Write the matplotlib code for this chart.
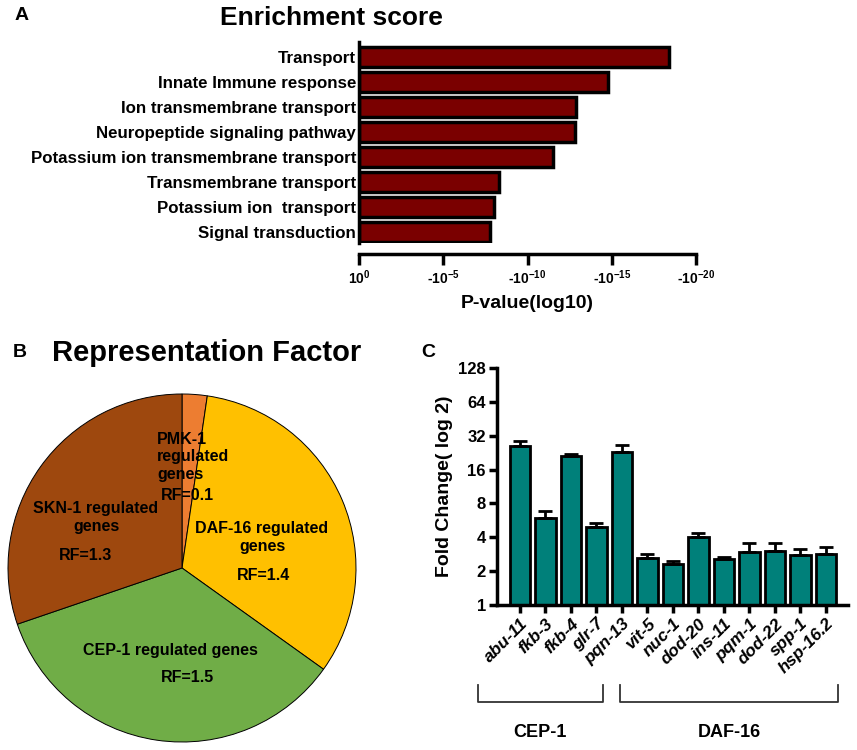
import matplotlib
matplotlib.use('Agg')
import matplotlib.pyplot as plt
import numpy as np

plt.rcParams['font.family'] = ['Liberation Sans', 'DejaVu Sans']
plt.rcParams['font.weight'] = 'bold'
plt.rcParams['axes.labelweight'] = 'bold'
plt.rcParams['mathtext.fontset'] = 'custom'
plt.rcParams['mathtext.bf'] = 'Liberation Sans:bold'
plt.rcParams['mathtext.rm'] = 'Liberation Sans:bold'
plt.rcParams['mathtext.default'] = 'bf'
plt.rcParams['axes.unicode_minus'] = False

# A: enrichment
go_terms = ['Transport', 'Innate Immune response', 'Ion transmembrane transport',
            'Neuropeptide signaling pathway', 'Potassium ion transmembrane transport',
            'Transmembrane transport', 'Potassium ion  transport', 'Signal transduction']
neg_log_p = [18.4, 14.8, 12.9, 12.8, 11.5, 8.3, 8.0, 7.8]
p_ticks = [0, 5, 10, 15, 20]
p_ticklabels = ['10$^{0}$', '-10$^{-5}$', '-10$^{-10}$', '-10$^{-15}$', '-10$^{-20}$']

# B: representation factor
pie_labels = ['PMK-1', 'DAF-16', 'CEP-1', 'SKN-1']
rf_values = [0.1, 1.4, 1.5, 1.3]
pie_colors = ['#ED7D31', '#FFC000', '#70AD47', '#9E480E']

# C: fold change
genes = ['abu-11', 'fkb-3', 'fkb-4', 'glr-7', 'pqn-13', 'vit-5', 'nuc-1', 'dod-20',
         'ins-11', 'pqm-1', 'dod-22', 'spp-1', 'hsp-16.2']
fold = [25.8, 5.9, 21.1, 4.96, 23.0, 2.6, 2.3, 4.0, 2.58, 2.94, 3.03, 2.78, 2.84]
fold_err = [3.0, 0.9, 0.7, 0.42, 3.4, 0.22, 0.17, 0.33, 0.1, 0.59, 0.5, 0.36, 0.45]
groups = ['CEP-1', 'DAF-16']
group_span = [(-1.65, 3.25), (3.92, 12.47)]

W, H = 857, 750
fig = plt.figure(figsize=(W / 100, H / 100), dpi=100)


def px_axes(x0, y0, x1, y1):
    return fig.add_axes([x0 / W, 1 - y1 / H, (x1 - x0) / W, (y1 - y0) / H])


# ---- panel A
axA = px_axes(359, 42, 696, 243)
ypos = np.arange(len(go_terms))
axA.barh(ypos, neg_log_p, height=0.78, color='#7A0000', edgecolor='black', linewidth=2.5)
axA.set_ylim(7.44, -0.6)
axA.set_xlim(0, 20)
axA.set_yticks(ypos)
axA.set_yticklabels(go_terms, fontsize=12.2)
axA.tick_params(axis='y', length=0, pad=2)
axA.set_xticks(p_ticks)
axA.set_xticklabels(p_ticklabels, fontsize=12)
axA.tick_params(axis='x', length=8, width=2.5, direction='out', pad=2)
for s in ['top', 'right']:
    axA.spines[s].set_visible(False)
axA.spines['left'].set_linewidth(2.5)
axA.spines['bottom'].set_linewidth(2.5)
axA.spines['bottom'].set_position(('outward', 8))
axA.set_xlabel('P-value(log10)', fontsize=14, labelpad=6)
fig.text(331 / W, 1 - 18 / H, 'Enrichment score', fontsize=19, ha='center', va='center')
fig.text(22 / W, 1 - 15 / H, 'A', fontsize=14, ha='center', va='center')

# ---- panel B
r = 174
cx, cy = 182, 568
axB = px_axes(cx - r, cy - r, cx + r, cy + r)
axB.pie(rf_values, colors=pie_colors, startangle=90, counterclock=False,
        wedgeprops=dict(edgecolor='black', linewidth=0.7))
axB.set_xlim(-1, 1)
axB.set_ylim(-1, 1)


def pd_(px, py):
    return (px - cx) / r, (cy - py) / r


tx = 11.5
axB.text(*pd_(157, 457), 'PMK-1\nregulated\ngenes', fontsize=tx, ha='left', va='center',
         linespacing=1.2)
axB.text(*pd_(187, 496), 'RF=0.1', fontsize=tx, ha='center', va='center')
axB.text(*pd_(96, 517), 'SKN-1 regulated\ngenes', fontsize=tx, ha='center', va='center',
         linespacing=1.25)
axB.text(*pd_(85, 555), 'RF=1.3', fontsize=tx, ha='center', va='center')
axB.text(*pd_(262, 538), 'DAF-16 regulated\ngenes', fontsize=tx, ha='center', va='center',
         linespacing=1.25)
axB.text(*pd_(263, 575), 'RF=1.4', fontsize=tx, ha='center', va='center')
axB.text(*pd_(170, 650), 'CEP-1 regulated genes', fontsize=tx, ha='center', va='center')
axB.text(*pd_(187, 678), 'RF=1.5', fontsize=tx, ha='center', va='center')
fig.text(20 / W, 1 - 352 / H, 'B', fontsize=14, ha='center', va='center')
fig.text(207 / W, 1 - 353 / H, 'Representation Factor', fontsize=21, ha='center', va='center')

# ---- panel C
axC = px_axes(497, 368, 848, 605)
xpos = np.arange(len(genes))
axC.bar(xpos, fold, width=0.8, color='#00807A', edgecolor='black', linewidth=2,
        yerr=[np.zeros(len(fold)), fold_err], error_kw=dict(ecolor='black', elinewidth=2,
                                                            capsize=5, capthick=2))
axC.set_yscale('log', base=2)
axC.set_ylim(1, 128)
axC.set_xlim(-0.9, 12.87)
yt = [1, 2, 4, 8, 16, 32, 64, 128]
axC.set_yticks(yt)
axC.set_yticklabels([str(v) for v in yt], fontsize=12)
axC.yaxis.set_minor_locator(matplotlib.ticker.NullLocator())
axC.set_xticks(xpos)
axC.set_xticklabels(genes, rotation=45, ha='right', rotation_mode='anchor', fontsize=12.5,
                    style='italic')
axC.tick_params(axis='both', length=6, width=2.5, direction='out', pad=2)
for s in ['top', 'right']:
    axC.spines[s].set_visible(False)
axC.spines['left'].set_linewidth(2.5)
axC.spines['bottom'].set_linewidth(2.5)
axC.set_ylabel('Fold Change( log 2)', fontsize=14, labelpad=4)

tr = axC.get_xaxis_transform()
y_lo, y_hi, y_txt = -0.409, -0.338, -0.54
for name, (a, b) in zip(groups, group_span):
    axC.plot([a, a, b, b], [y_hi, y_lo, y_lo, y_hi], color='#333333', lw=1.3,
             transform=tr, clip_on=False)
    axC.text((a + b) / 2, y_txt, name, transform=tr, fontsize=13, ha='center', va='center')
fig.text(428 / W, 1 - 352 / H, 'C', fontsize=14, ha='center', va='center')

fig.savefig('out.png', dpi=100)
